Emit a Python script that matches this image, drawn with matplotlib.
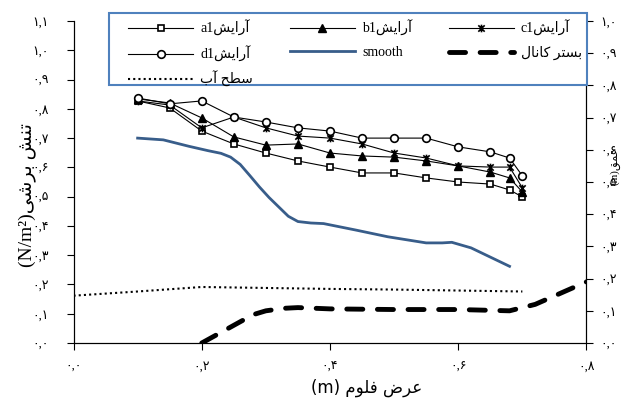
import matplotlib
matplotlib.use('Agg')
import matplotlib.pyplot as plt
from matplotlib.path import Path
from matplotlib.patches import Rectangle

#--- Labels (shaped Persian text, visual order) ---
arayesh = '\uFEB6\uFBFE\uFE8D\uFEAD\uFE81'          # آرایش
bed_label = '\uFEDD\uFE8E\uFEE7\uFE8E\uFB90 \uFEAE\uFE98\uFEB4\uFE91'   # بستر کانال
water_label = '\uFE8F\uFE81 \uFEA2\uFEC4\uFEB3'    # سطح آب
ylabel_left = '(N/m²)\uFBFD\uFEB7\uFEAE\uFE91 \uFEB6\uFEE8\uFE97'   # تنش برشی
ylabel_right = '(m)\uFED6\uFEE4\uFECB'              # عمق
xlabel = '(m) \uFEE1\uFEEE\uFEE0\uFED3 \uFEBD\uFEAE\uFECB'            # عرض فلوم

#--- Data ---
x_pts = [0.10, 0.15, 0.20, 0.25, 0.30, 0.35, 0.40, 0.45, 0.50, 0.55, 0.60, 0.65, 0.68, 0.70]
a1 = [0.827, 0.803, 0.724, 0.680, 0.649, 0.622, 0.601, 0.581, 0.581, 0.564, 0.550, 0.543, 0.523, 0.499]
b1 = [0.834, 0.820, 0.769, 0.704, 0.676, 0.680, 0.649, 0.639, 0.635, 0.622, 0.605, 0.584, 0.564, 0.516]
c1 = [0.827, 0.813, 0.735, 0.772, 0.735, 0.707, 0.700, 0.680, 0.649, 0.632, 0.605, 0.601, 0.601, 0.530]
d1 = [0.837, 0.817, 0.827, 0.772, 0.755, 0.735, 0.724, 0.700, 0.700, 0.700, 0.670, 0.653, 0.632, 0.571]

smooth_x = [0.10, 0.14, 0.18, 0.21, 0.23, 0.245, 0.26, 0.275, 0.29, 0.305, 0.32, 0.335, 0.35, 0.37,
            0.39, 0.44, 0.49, 0.55, 0.575, 0.59, 0.62, 0.68]
smooth_y = [0.700, 0.694, 0.672, 0.657, 0.648, 0.635, 0.610, 0.572, 0.533, 0.497, 0.465, 0.433, 0.415, 0.410,
            0.408, 0.386, 0.363, 0.342, 0.342, 0.344, 0.325, 0.262]

bed_x = [0.20, 0.25, 0.28, 0.30, 0.33, 0.35, 0.40, 0.50, 0.60, 0.68, 0.72, 0.80]
bed_y = [0.000, 0.055, 0.088, 0.100, 0.108, 0.110, 0.106, 0.104, 0.104, 0.100, 0.120, 0.190]

water_x = [0.00, 0.10, 0.20, 0.30, 0.40, 0.50, 0.60, 0.70]
water_y = [0.147, 0.160, 0.174, 0.171, 0.168, 0.166, 0.163, 0.160]

fa_digits = str.maketrans('0123456789', '۰۱۲۳۴۵۶۷۸۹')
def fa(v):
    return ('%.1f' % v).replace('.', ',').translate(fa_digits)

fam = ['Liberation Serif', 'DejaVu Sans']
plt.rcParams['font.family'] = fam

# Excel style star: x plus vertical bar
star = Path([(-1, -1), (1, 1), (-1, 1), (1, -1), (0, -1.2), (0, 1.2)],
            [Path.MOVETO, Path.LINETO, Path.MOVETO, Path.LINETO, Path.MOVETO, Path.LINETO])

fig = plt.figure(figsize=(6.32, 4.01), dpi=100)
ax1 = fig.add_axes([0.1163, 0.1446, 0.8117, 0.803])
ax2 = ax1.twinx()

l_a1, = ax1.plot(x_pts, a1, color='black', lw=0.8, marker='s', ms=5, mfc='white', mec='black', mew=1.2,
                 label='a1' + arayesh)
l_b1, = ax1.plot(x_pts, b1, color='black', lw=0.8, marker='^', ms=6, mfc='black', mec='black',
                 label='b1' + arayesh)
l_c1, = ax1.plot(x_pts, c1, color='black', lw=0.8, marker=star, ms=5.5, mfc='black', mec='black', mew=1.2,
                 label='c1' + arayesh)
l_d1, = ax1.plot(x_pts, d1, color='black', lw=0.8, marker='o', ms=5.5, mfc='white', mec='black', mew=1.2,
                 label='d1' + arayesh)
l_sm, = ax1.plot(smooth_x, smooth_y, color='#385D8A', lw=2, label='smooth')

l_bed, = ax2.plot(bed_x, bed_y, color='black', lw=3.5, dashes=(3.3, 3.0),
                  dash_capstyle='round', label=bed_label)
l_wat, = ax2.plot(water_x, water_y, color='black', lw=1.5, ls=(0, (1, 1.5)), label=water_label)

ax1.set_xlim(0, 0.8)
ax1.set_ylim(0, 1.1)
ax2.set_ylim(0, 1.0)

ax1.set_xticks([0, 0.2, 0.4, 0.6, 0.8])
ax1.set_xticklabels([fa(v) for v in [0, 0.2, 0.4, 0.6, 0.8]])
yl = [i / 10 for i in range(12)]
ax1.set_yticks(yl)
ax1.set_yticklabels([fa(v) for v in yl])
yr = [i / 10 for i in range(11)]
ax2.set_yticks(yr)
ax2.set_yticklabels([fa(v) for v in yr])

for ax in (ax1, ax2):
    ax.spines['top'].set_visible(False)
    ax.tick_params(direction='out', length=5, width=0.8, labelsize=9)
    for s in ax.spines.values():
        s.set_linewidth(0.8)
ax1.tick_params(axis='y', pad=13)
ax1.tick_params(axis='x', pad=8)
ax2.tick_params(axis='y', pad=5)

ax1.set_xlabel(xlabel, fontsize=12, family=['DejaVu Sans'])
ax1.xaxis.set_label_coords(0.572, -0.112)
ax1.set_ylabel(ylabel_left, fontsize=14)
ax1.yaxis.set_label_coords(-0.073, 0.46)
ax2.set_ylabel(ylabel_right, fontsize=8)
ax2.yaxis.set_label_coords(1.045, 0.55)

# legend frame drawn as its own box
fig.patches.append(Rectangle((109 / 632, 1 - 85 / 401), (587 - 109) / 632, (85 - 13) / 401,
                             transform=fig.transFigure, facecolor='white', edgecolor='#4F81BD',
                             linewidth=1.5, zorder=3))

handles = [l_a1, l_d1, l_wat, l_b1, l_sm, l_c1, l_bed]
leg = fig.legend(handles=handles, loc='upper left', bbox_to_anchor=(128 / 632, 1 - 20 / 401, 454 / 632, 0.0),
                 mode='expand', ncol=3, fontsize=10, handlelength=4.7, handletextpad=0.5,
                 frameon=False, borderaxespad=0, borderpad=0, labelspacing=0.68, columnspacing=1.0)
leg.set_zorder(5)

fig.savefig('out.png', dpi=100)
